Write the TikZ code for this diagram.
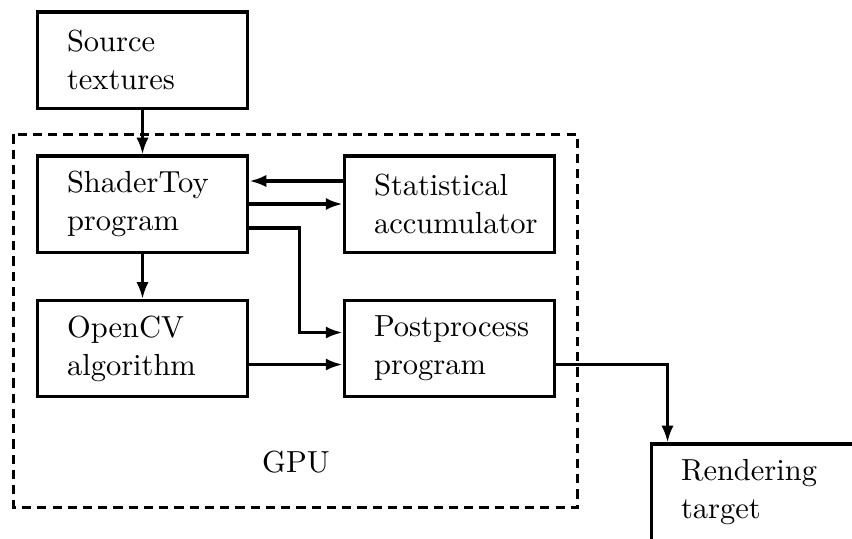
\documentclass[tikz,border=0pt]{standalone}
\usepackage{tikz}
\usetikzlibrary{calc, arrows.meta}

\begin{document}
\begin{tikzpicture}[x=0.328pt,y=-0.328pt,
    block/.style={draw,line width=1pt,align=left,text width=49.5pt,inner xsep=9.84pt,minimum height=31.5pt,font=\fontsize{10pt}{12.5pt}\selectfont},
    arr/.style={-{Latex[length=5.5pt,width=4pt]},line width=1pt}]
    \clip (0,0) rectangle (852,538); %画面
    \node[block] (src) at (142.5,60) {Source\\textures};
    \node[block] (shader) at (142.5,204) {ShaderToy\\program};
    \node[block] (stat) at (449.5,204) {Statistical\\accumulator};
    \node[block] (opencv) at (142.5,348.5) {OpenCV\\algorithm};
    \node[block] (post) at (449.5,348.5) {Postprocess\\program};
    \node[block] (render) at (756.5,492) {Rendering\\target};
    \draw[dash pattern=on 3pt off 2pt,line width=1pt] ($(shader.north west)+(-22,-20)$) rectangle ($(post.south east)+(21,109)$); %GPU
    \node[font=\fontsize{10pt}{12.5pt}\selectfont] (gpu) at (296,462) {GPU};
    \draw[arr] (src) -- (shader);
    \draw[arr] ($(stat.west)+(0,-23)$) -- ($(shader.east)+(0,-23)$);
    \draw[arr] (shader) -- (stat);
    \draw[arr] ($(shader.east)+(0,24)$) -- ++(50,0) |- ($(post.west)+(0,-16)$);
    \draw[arr] (shader) -- (opencv);
    \draw[arr] ($(opencv.east)+(0,16)$) -- ($(post.west)+(0,16)$);
    \draw[arr] ($(post.east)+(0,16)$) -| ($(render.north west)+(18,0)$);
\end{tikzpicture}
\end{document}
